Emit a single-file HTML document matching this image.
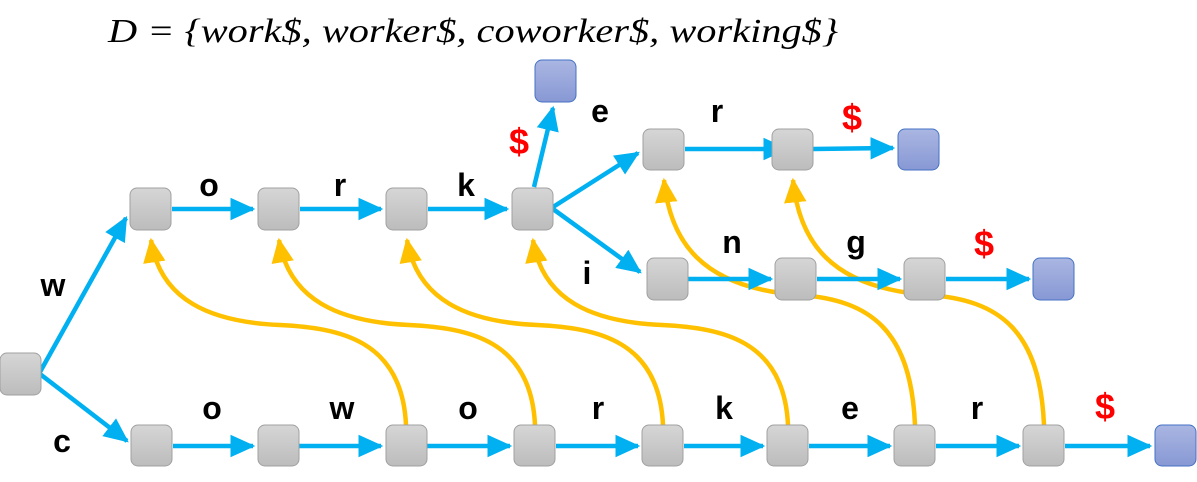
<!DOCTYPE html>
<html><head><meta charset="utf-8"><style>body{margin:0;background:#fff}svg{display:block}</style></head><body>
<svg width="1197" height="482" viewBox="0 0 1197 482" xmlns="http://www.w3.org/2000/svg">
<defs>
<linearGradient id="g" x1="0" y1="0" x2="0" y2="1"><stop offset="0" stop-color="#d6d6d6"/><stop offset="1" stop-color="#bcbcbc"/></linearGradient>
<linearGradient id="b" x1="0" y1="0" x2="0" y2="1"><stop offset="0" stop-color="#aab6e2"/><stop offset="1" stop-color="#8798d4"/></linearGradient>
<marker id="ab" markerWidth="6" markerHeight="6" refX="5" refY="3" orient="auto" markerUnits="strokeWidth"><path d="M0,0.5 L5.5,3 L0,5.5 z" fill="#00b0f0"/></marker>
<marker id="ay" markerWidth="6" markerHeight="6" refX="5" refY="3" orient="auto" markerUnits="strokeWidth"><path d="M0,0.5 L5.5,3 L0,5.5 z" fill="#ffc000"/></marker>
</defs>
<text x="108" y="42" font-family="Liberation Serif, serif" font-style="italic" font-size="34" textLength="730" lengthAdjust="spacingAndGlyphs">D = {work$, worker$, coworker$, working$}</text>

<g stroke="#ffc000" stroke-width="4.5" fill="none" marker-end="url(#ay)">
<path d="M406,425 C402,340 340,328 280,325 C210,322 160,300 151,240"/>
<path d="M535,425 C531,340 469,328 409,325 C339,322 289,300 279,240"/>
<path d="M663,425 C659,340 597,328 537,325 C467,322 417,300 407,240"/>
<path d="M788,425 C784,340 722,328 662,325 C592,322 542,300 533,240"/>
<path d="M915,425 C911,330 870,300 800,295 C700,288 670,240 664,180"/>
<path d="M1044,425 C1040,330 999,300 929,295 C829,288 799,240 793,180"/>
</g>

<g stroke="#00b0f0" stroke-width="4.5" fill="none" marker-end="url(#ab)">
<path d="M40,372 L126,218"/>
<path d="M40,374 L127,441"/>
<path d="M172,209 L253,209"/><path d="M300,209 L381,209"/><path d="M428,209 L507,209"/>
<path d="M534,187 L553,108"/>
<path d="M553,207 L638,153"/>
<path d="M553,209 L640,272"/>
<path d="M685,149 L786,149"/><path d="M813,149 L893,148"/>
<path d="M688,279 L771,279"/><path d="M817,279 L900,279"/><path d="M946,279 L1029,279"/>
<path d="M173,446 L253,446"/><path d="M299,446 L381,446"/><path d="M427,446 L510,446"/><path d="M556,446 L638,446"/><path d="M684,446 L763,446"/><path d="M809,446 L890,446"/><path d="M936,446 L1019,446"/><path d="M1065,446 L1150,446"/>
</g>

<g stroke="#a0a0a0" stroke-width="1" fill="url(#g)">
<rect x="0" y="353" width="41" height="42" rx="7"/>
<rect x="130" y="188" width="41" height="42" rx="7"/>
<rect x="258" y="188" width="41" height="42" rx="7"/>
<rect x="386" y="188" width="41" height="42" rx="7"/>
<rect x="512" y="188" width="41" height="42" rx="7"/>
<rect x="643" y="129" width="41" height="41" rx="7"/>
<rect x="772" y="129" width="41" height="41" rx="7"/>
<rect x="647" y="258" width="41" height="42" rx="7"/>
<rect x="775" y="258" width="41" height="42" rx="7"/>
<rect x="904" y="258" width="41" height="42" rx="7"/>
<rect x="131" y="425" width="41" height="41" rx="7"/>
<rect x="258" y="425" width="41" height="41" rx="7"/>
<rect x="386" y="425" width="41" height="41" rx="7"/>
<rect x="514" y="425" width="41" height="41" rx="7"/>
<rect x="642" y="425" width="41" height="41" rx="7"/>
<rect x="767" y="425" width="41" height="41" rx="7"/>
<rect x="894" y="425" width="41" height="41" rx="7"/>
<rect x="1023" y="425" width="41" height="41" rx="7"/>
</g>
<g stroke="#4472c4" stroke-width="1" fill="url(#b)">
<rect x="535" y="60" width="41" height="42" rx="7"/>
<rect x="898" y="129" width="41" height="41" rx="7"/>
<rect x="1033" y="258" width="41" height="42" rx="7"/>
<rect x="1155" y="425" width="41" height="41" rx="7"/>
</g>

<g font-family="Liberation Sans, sans-serif" font-weight="bold" font-size="32" text-anchor="middle" fill="#000">
<text x="53" y="296">w</text><text x="62" y="452">c</text>
<text x="209" y="196">o</text><text x="340" y="196">r</text><text x="466" y="196">k</text>
<text x="600" y="122">e</text><text x="717" y="122">r</text>
<text x="587" y="284">i</text><text x="732" y="253">n</text><text x="856" y="253">g</text>
<text x="212" y="419">o</text><text x="342" y="419">w</text><text x="468" y="419">o</text><text x="598" y="419">r</text><text x="724" y="419">k</text><text x="850" y="419">e</text><text x="977" y="419">r</text>
</g>
<g font-family="Liberation Sans, sans-serif" font-weight="bold" font-size="36" text-anchor="middle" fill="#ff0000">
<text x="519" y="154">$</text><text x="852" y="130">$</text><text x="984" y="256">$</text><text x="1105" y="419">$</text>
</g>
</svg>
</body></html>
